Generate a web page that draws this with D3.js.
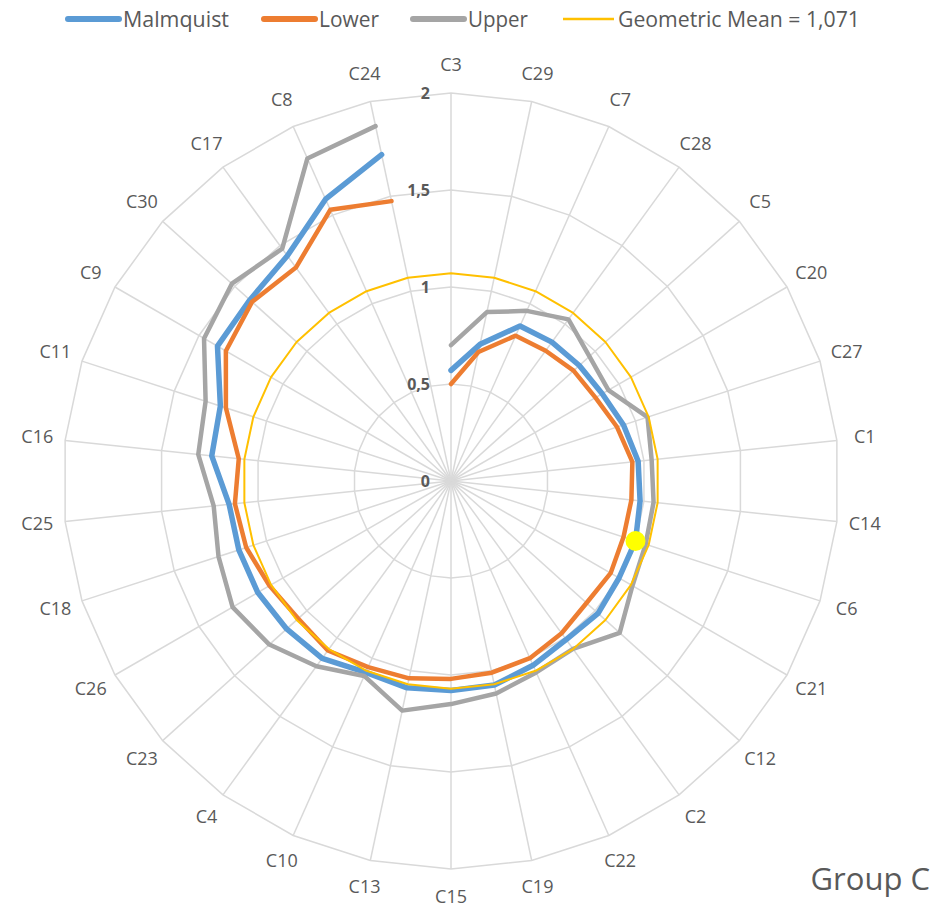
<!DOCTYPE html>
<html>
<head>
<meta charset="utf-8">
<script src="https://cdn.jsdelivr.net/npm/d3@7"></script>
<style>
  body { margin: 0; background: #fff; }
  text { font-family: "Open Sans", "Noto Sans", sans-serif; fill: #595959; }
</style>
</head>
<body>
<div id="radar"></div>
<script>
// categories clockwise from the top
var categories = ["C3", "C29", "C7", "C28", "C5", "C20", "C27", "C1", "C14", "C6",
  "C21", "C12", "C2", "C22", "C19", "C15", "C13", "C10", "C4", "C23",
  "C26", "C18", "C25", "C16", "C11", "C9", "C30", "C17", "C8", "C24"];

var malmquist = [0.57, 0.72, 0.875, 0.885, 0.89, 0.90, 0.935, 0.97, 0.98, 1.00,
  1.00, 1.02, 1.01, 1.04, 1.075, 1.08, 1.09, 1.08, 1.13, 1.14,
  1.15, 1.15, 1.15, 1.24, 1.25, 1.39, 1.395, 1.435, 1.59, 1.72];

var lower = [0.50, 0.68, 0.82, 0.83, 0.85, 0.86, 0.90, 0.94, 0.935, 0.935,
  0.95, 0.94, 0.97, 1.00, 1.01, 1.02, 1.04, 1.05, 1.08, 1.06,
  1.08, 1.11, 1.12, 1.10, 1.22, 1.34, 1.38, 1.36, 1.53, 1.475];

var upper = [0.70, 0.89, 0.96, 1.03, 0.96, 0.937, 1.065, 1.04, 1.05, 1.055,
  1.08, 1.17, 1.07, 1.08, 1.12, 1.15, 1.21, 1.10, 1.18, 1.26,
  1.30, 1.26, 1.23, 1.31, 1.33, 1.47, 1.52, 1.48, 1.82, 1.87];

var geoMean = [1.071, 1.071, 1.071, 1.071, 1.071, 1.071, 1.071, 1.071, 1.071, 1.071,
  1.071, 1.071, 1.071, 1.071, 1.071, 1.071, 1.071, 1.071, 1.071, 1.071,
  1.071, 1.071, 1.071, 1.071, 1.071, 1.071, 1.071, 1.071, 1.071, 1.071];

var ticks = [0, 0.5, 1, 1.5, 2];
var tickLabels = ["0", "0,5", "1", "1,5", "2"];
var legendLabels = ["Malmquist", "Lower", "Upper", "Geometric Mean = 1,071"];
var highlight = "C6";

var width = 940, height = 909,
  cx = 451, cy = 481, outer = 388;

var svg = d3.select("#radar")
  .append("svg")
    .attr("width", width)
    .attr("height", height);

var g = svg.append("g")
  .attr("transform", "translate(" + cx + "," + cy + ")");

var r = d3.scaleLinear()
  .domain([0, 2])
  .range([0, outer]);

var angle = d3.scaleLinear()
  .domain([0, categories.length])
  .range([0, 2 * Math.PI]);

// grid rings
var ring = d3.lineRadial()
  .angle(function(d, i) { return angle(i); })
  .radius(function(d) { return r(d); })
  .curve(d3.curveLinearClosed);

ticks.slice(1).forEach(function(t) {
  g.append("path")
    .attr("d", ring(categories.map(function() { return t; })))
    .attr("fill", "none")
    .attr("stroke", "#d9d9d9")
    .attr("stroke-width", 1.5);
});

// spokes
g.selectAll(".spoke")
  .data(categories)
  .enter()
  .append("line")
    .attr("x1", 0)
    .attr("y1", 0)
    .attr("x2", function(d, i) { return r(2) * Math.sin(angle(i)); })
    .attr("y2", function(d, i) { return -r(2) * Math.cos(angle(i)); })
    .attr("stroke", "#d9d9d9")
    .attr("stroke-width", 1.5);

// category labels
var labelR = r(2) + 28;
g.selectAll(".cat")
  .data(categories)
  .enter()
  .append("text")
    .attr("x", function(d, i) { return labelR * Math.sin(angle(i)); })
    .attr("y", function(d, i) { return -labelR * Math.cos(angle(i)) - 1.5; })
    .attr("text-anchor", "middle")
    .attr("dominant-baseline", "central")
    .style("font-size", "18px")
    .text(function(d) { return d; });

// axis tick labels
g.selectAll(".tick")
  .data(ticks)
  .enter()
  .append("text")
    .attr("x", -21)
    .attr("y", function(d) { return -r(d); })
    .attr("text-anchor", "end")
    .attr("dominant-baseline", "central")
    .style("font-size", "16px")
    .style("font-weight", "bold")
    .text(function(d, i) { return tickLabels[i]; });

// series lines (data lines are left open, mean is closed)
var line = d3.lineRadial()
  .angle(function(d, i) { return angle(i); })
  .radius(function(d) { return r(d); });

var series = [
  {values: malmquist, color: "#5B9BD5", w: 5.5, closed: false},
  {values: lower, color: "#ED7D31", w: 4.5, closed: false},
  {values: upper, color: "#A5A5A5", w: 4.5, closed: false},
  {values: geoMean, color: "#FFC000", w: 2, closed: true}
];

series.forEach(function(s) {
  g.append("path")
    .attr("d", s.closed ? ring(s.values) : line(s.values))
    .attr("fill", "none")
    .attr("stroke", s.color)
    .attr("stroke-width", s.w)
    .attr("stroke-linejoin", "round")
    .attr("stroke-linecap", "round");
});

// highlighted point
var hi = categories.indexOf(highlight);
g.append("circle")
  .attr("cx", r(malmquist[hi]) * Math.sin(angle(hi)))
  .attr("cy", -r(malmquist[hi]) * Math.cos(angle(hi)))
  .attr("r", 10)
  .attr("fill", "#FFFF00");

// legend
var legendX = [66, 262, 411, 561];
var legendTextW = [106, 60, 60, 242];
var legend = svg.append("g");
series.forEach(function(s, i) {
  legend.append("line")
    .attr("x1", legendX[i] + 2)
    .attr("x2", legendX[i] + 53)
    .attr("y1", 19)
    .attr("y2", 19)
    .attr("stroke", s.color)
    .attr("stroke-width", s.closed ? 2.5 : 6)
    .attr("stroke-linecap", s.closed ? "butt" : "round");
  legend.append("text")
    .attr("x", legendX[i] + 57)
    .attr("y", 27)
    .attr("textLength", legendTextW[i])
    .attr("lengthAdjust", "spacingAndGlyphs")
    .style("font-size", "21px")
    .text(legendLabels[i]);
});

svg.append("text")
  .attr("x", 930)
  .attr("y", 890)
  .attr("text-anchor", "end")
  .style("font-size", "31px")
  .text("Group C");
</script>
</body>
</html>
